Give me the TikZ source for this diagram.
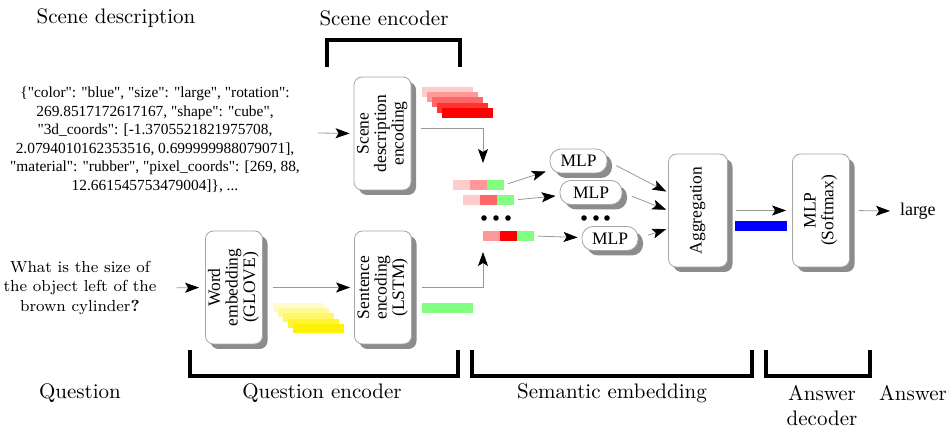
\documentclass[tikz,border=0pt]{standalone}
\usepackage{fontspec}
\usepackage{graphicx}
\newfontfamily\timesfont{Liberation Serif}
\usetikzlibrary{arrows.meta,positioning,shadows}

\tikzset{
  block/.style={draw=black!35, fill=white, rounded corners=4pt, inner sep=0pt,
    drop shadow={shadow xshift=2.5pt, shadow yshift=-2.5pt, opacity=1, fill=black!45},
    font=\timesfont\fontsize{8.75}{8.75}\selectfont, align=center},
  bigblock/.style={block, minimum width=28.5pt, minimum height=56.5pt},
  mlpblock/.style={block, rounded corners=5.5pt, minimum height=12pt},
  arr/.style={draw=black!40, -{Stealth[length=7pt,width=5pt,inset=1.5pt,black]}, shorten <=5pt, shorten >=2pt},
  bracket/.style={line width=2pt},
  title/.style={font=\fontsize{10.5}{12.5}\selectfont, align=center},
  seg/.style={minimum width=8.5pt, minimum height=5pt, inner sep=0pt, outer sep=0pt},
}
\newcommand{\vlabel}[1]{\rotatebox{90}{\begin{tabular}{@{}c@{}}#1\end{tabular}}}

\begin{document}
\begin{tikzpicture}[x=0.5pt, y=-0.5pt]
  \useasboundingbox (0,0) rectangle (952,437);

  % Titles
  \node[title] (tscene) at (116,18) {Scene description};
  \node[title] (tsenc) at (384,18) {Scene encoder};
  \node[title] (tquest) at (80,393) {Question};
  \node[title] (tqenc) at (322,393) {Question encoder};
  \node[title] (tsem) at (612,393) {Semantic embedding};
  \node[title] (tdec) at (822,406) {Answer\\decoder};
  \node[title] (tans) at (913,393) {Answer};

  % Brackets
  \draw[bracket] (327,67) -- (327,40) -- (460,40) -- (460,67);
  \draw[bracket] (190,350) -- (190,376) -- (458,376) -- (458,350);
  \draw[bracket] (472,350) -- (472,376) -- (752,376) -- (752,350);
  \draw[bracket] (766,350) -- (766,376) -- (870,376) -- (870,350);

  % Inputs
  \node[font=\timesfont\fontsize{7.7}{9.25}\selectfont, align=center] (json) at (155,140)
    {\{"color": "blue", "size": "large", "rotation":\\
     269.8517172617167, "shape": "cube",\\
     "3d\_coords": [-1.3705521821975708,\\
     2.0794010162353516, 0.699999988079071],\\
     "material": "rubber", "pixel\_coords": [269, 88,\\
     12.661545753479004]\}, ...};
  \node[font=\fontsize{8}{9.75}\selectfont, align=center] (quest) at (80,288)
    {What is the size of\\the object left of the\\brown cylinder\textbf{?}};

  % Encoders
  \node[bigblock] (scene) at (382.5,133.5) {\vlabel{Scene\\description\\encoding}};
  \node[bigblock] (word) at (234,287.5) {\vlabel{Word\\embedding\\(GLOVE)}};
  \node[bigblock] (sent) at (383,287.5) {\vlabel{Sentence\\encoding\\(LSTM)}};

  % Stacked embeddings
  \foreach \i/\c in {0/20,1/40,2/60,3/80,4/100}
    \fill[red!\c] (422+5*\i,87+5.25*\i) rectangle ++(51,10);
  \foreach \i/\c in {0/20,1/40,2/60,3/80,4/100}
    \fill[yellow!\c] (273+5*\i,303+5.25*\i) rectangle ++(51,9);
  \fill[green!50] (422,303) rectangle (473,313);

  % Object pairs + question
  \node[seg, fill=red!20] (v1a) at (461.5,185) {};
  \node[seg, fill=red!40, right=0pt of v1a] (v1b) {};
  \node[seg, fill=green!50, right=0pt of v1b] (v1c) {};
  \node[seg, fill=red!20] (v2a) at (471.5,200) {};
  \node[seg, fill=red!60, right=0pt of v2a] (v2b) {};
  \node[seg, fill=green!50, right=0pt of v2b] (v2c) {};
  \node[seg, fill=red!40] (v3a) at (491.5,236) {};
  \node[seg, fill=red, right=0pt of v3a] (v3b) {};
  \node[seg, fill=green!50, right=0pt of v3b] (v3c) {};
  \foreach \x in {484,496,508} \fill (\x,218) circle (1.4pt);

  % Relation MLPs
  \node[mlpblock, minimum width=28.5pt] (mlp1) at (578.5,161) {MLP};
  \node[mlpblock, minimum width=31pt] (mlp2) at (591,192.5) {MLP};
  \node[mlpblock, minimum width=28pt] (mlp3) at (610,238.5) {MLP};
  \foreach \x in {584,596,607} \fill (\x,218) circle (1.4pt);

  % Aggregation and decoder
  \node[bigblock, minimum width=29.5pt] (agg) at (698,210.5) {\vlabel{Aggregation}};
  \node[bigblock] (soft) at (821,210.5) {\vlabel{MLP\\(Softmax)}};
  \fill[blue] (735,221) rectangle (787,231);
  \node[font=\timesfont\fontsize{9}{10}\selectfont, anchor=west] (large) at (893,211) {large};

  % Connectors
  \coordinate (jsonout) at (318,133);
  \coordinate (pairtop) at (483,163);
  \coordinate (pairbot) at (483,252);
  \draw[arr, shorten <=0pt] (jsonout) -- (scene.west);
  \draw[arr, shorten >=0pt] ([yshift=2.75pt]scene.east) -| (pairtop);
  \draw[arr, shorten >=0pt] (sent.east) -| (pairbot);
  \draw[arr, shorten <=6.5pt, shorten >=3pt] (quest.east) -- (word.west);
  \draw[arr, shorten >=2pt] (word.east) -- (sent.west);
  \draw[arr, shorten <=2pt] (v1c.east) -- (mlp1);
  \draw[arr, shorten <=2pt] (v2c.east) -- (mlp2);
  \draw[arr, shorten <=2pt] (v3c.east) -- (mlp3);
  \draw[arr, shorten >=1pt] (mlp1.east) -- ([yshift=9pt]agg.west);
  \draw[arr, shorten >=1pt] (mlp2.east) -- (agg.west);
  \draw[arr, shorten >=1pt] (mlp3.east) -- ([yshift=-9pt]agg.west);
  \draw[arr, shorten <=4pt, shorten >=3pt] (agg.east) -- (soft.west);
  \draw[arr, shorten <=4.5pt, shorten >=1.5pt] (soft.east) -- (large.west);
\end{tikzpicture}
\end{document}
